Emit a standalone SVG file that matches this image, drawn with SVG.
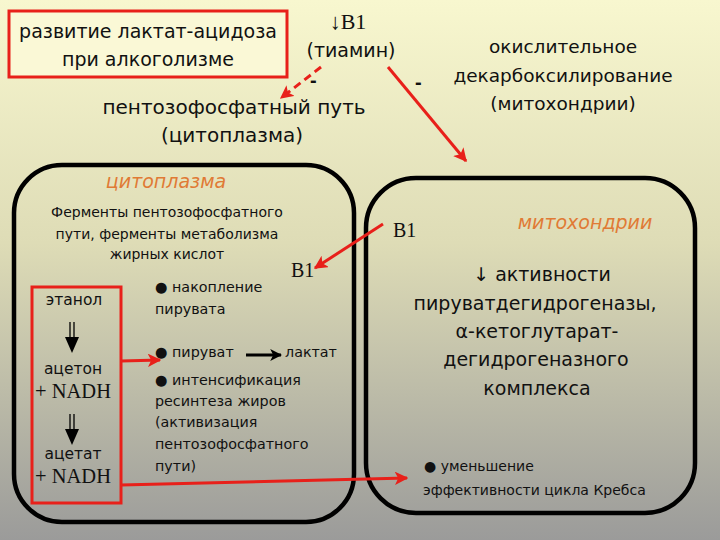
<svg xmlns="http://www.w3.org/2000/svg" width="720" height="540" viewBox="0 0 720 540">
<defs>
<linearGradient id="bg" x1="0" y1="0" x2="0" y2="1">
<stop offset="0" stop-color="#f8f7cf"/>
<stop offset="0.45" stop-color="#dedcb6"/>
<stop offset="1" stop-color="#9b9b9a"/>
</linearGradient>
<marker id="rh" viewBox="0 0 10 10" refX="9" refY="5" markerWidth="4.5" markerHeight="4.5" orient="auto" markerUnits="strokeWidth">
<path d="M0,0 L10,5 L0,10 L2.5,5 Z" fill="#e8201a"/>
</marker>
<marker id="bh" viewBox="0 0 10 10" refX="9" refY="5" markerWidth="4" markerHeight="4" orient="auto" markerUnits="strokeWidth">
<path d="M0,0 L10,5 L0,10 L2.5,5 Z" fill="#000"/>
</marker>
<g id="dbl">
<line x1="-2" y1="0" x2="-2" y2="17" stroke="#000" stroke-width="1.3"/>
<line x1="2" y1="0" x2="2" y2="17" stroke="#000" stroke-width="1.3"/>
<path d="M-7,15 L7,15 L0,31 Z" fill="#000"/>
</g>
</defs>
<style>
text{font-family:"DejaVu Sans",sans-serif;fill:#111}
.lat{font-family:"Liberation Serif",serif}
.t19{font-size:19px}
.t20{font-size:20px}
.t185{font-size:18.5px}
.t14{font-size:14px}
.t143{font-size:14.3px}
.t155{font-size:15.5px}
.n{font-size:20.5px}
.it{font-style:italic;fill:#e07a35;font-size:19px}
.c{text-anchor:middle}
.minus{font-family:"Liberation Sans",sans-serif;font-size:20px;font-weight:bold}
.box{fill:none;stroke:#000;stroke-width:4.5}
.red{fill:none;stroke:#e8201a;stroke-width:3}
.rl{stroke:#e8201a;stroke-width:3;fill:none}
</style>
<rect width="720" height="540" fill="url(#bg)"/>

<g id="title">
<rect x="9" y="11" width="278" height="66" fill="#faf8d6" stroke="#e8201a" stroke-width="3"/>
<text class="t19 c" x="148" y="38">развитие лактат-ацидоза</text>
<text class="t19 c" x="148" y="66">при алкоголизме</text>
</g>

<g id="thiamine">
<text class="lat c" x="348" y="29" style="font-size:22px">↓B1</text>
<text class="t19 c" x="351" y="57">(тиамин)</text>
</g>

<g id="ppp">
<text class="t20 c" x="234" y="114">пентозофосфатный путь</text>
<text class="t20 c" x="232" y="142">(цитоплазма)</text>
</g>

<g id="oxdec">
<text class="t185 c" x="563" y="53">окислительное</text>
<text class="t185 c" x="563" y="82">декарбоксилирование</text>
<text class="t185 c" x="563" y="110">(митохондрии)</text>
</g>

<g id="cytoplasm">
<rect x="14" y="165" width="340" height="357" rx="48" ry="48" class="box"/>
<text class="it c" x="166" y="188">цитоплазма</text>
<text class="t14 c" x="167" y="217">Ферменты пентозофосфатного</text>
<text class="t14 c" x="167" y="239">пути, ферменты метаболизма</text>
<text class="t14 c" x="167" y="259">жирных кислот</text>
<text class="lat t20" x="291" y="277">B1</text>
<text class="t143" x="155" y="292">● накопление</text>
<text class="t143" x="155" y="314">пирувата</text>
<text class="t143" x="155" y="357">● пируват</text>
<text class="t143" x="285" y="357">лактат</text>
<text class="t143" x="155" y="385">● интенсификация</text>
<text class="t143" x="155" y="406">ресинтеза жиров</text>
<text class="t143" x="155" y="427">(активизация</text>
<text class="t143" x="155" y="449">пентозофосфатного</text>
<text class="t143" x="155" y="471">пути)</text>
</g>

<g id="ethanol">
<rect x="32" y="287" width="89" height="216" class="red"/>
<text class="t155 c" x="74" y="305">этанол</text>
<text class="t155 c" x="73" y="374">ацетон</text>
<text class="lat n c" x="73" y="398">+ NADH</text>
<text class="t155 c" x="73" y="459">ацетат</text>
<text class="lat n c" x="73" y="483">+ NADH</text>
</g>

<g id="mitochondria">
<rect x="366" y="178" width="329" height="335" rx="50" ry="50" class="box"/>
<text class="lat t20" x="393" y="237">B1</text>
<text class="it c" x="585" y="229">митохондрии</text>
<text class="t19 c" x="542" y="281">↓ активности</text>
<text class="t19 c" x="535" y="310">пируватдегидрогеназы,</text>
<text class="t19 c" x="537" y="338">α-кетоглутарат-</text>
<text class="t19 c" x="536" y="366">дегидрогеназного</text>
<text class="t19 c" x="537" y="395">комплекса</text>
<text class="t14" x="424" y="471">● уменьшение</text>
<text class="t14" x="423" y="495">эффективности цикла Кребса</text>
</g>

<g id="connectors">
<line x1="321" y1="67" x2="281" y2="98" class="rl" stroke-dasharray="8 5" marker-end="url(#rh)"/>
<text class="minus" x="310" y="87">-</text>
<line x1="388" y1="67" x2="466" y2="161" class="rl" marker-end="url(#rh)"/>
<text class="minus" x="415" y="89">-</text>
<line x1="383" y1="224" x2="315" y2="268" class="rl" marker-end="url(#rh)"/>
<line x1="121" y1="361" x2="160" y2="360" class="rl" marker-end="url(#rh)"/>
<line x1="246" y1="355" x2="281" y2="355" stroke="#000" stroke-width="3" marker-end="url(#bh)"/>
<line x1="121" y1="485" x2="407" y2="478" class="rl" marker-end="url(#rh)"/>
<use href="#dbl" x="72" y="322"/>
<use href="#dbl" x="72" y="414"/>
</g>
</svg>
